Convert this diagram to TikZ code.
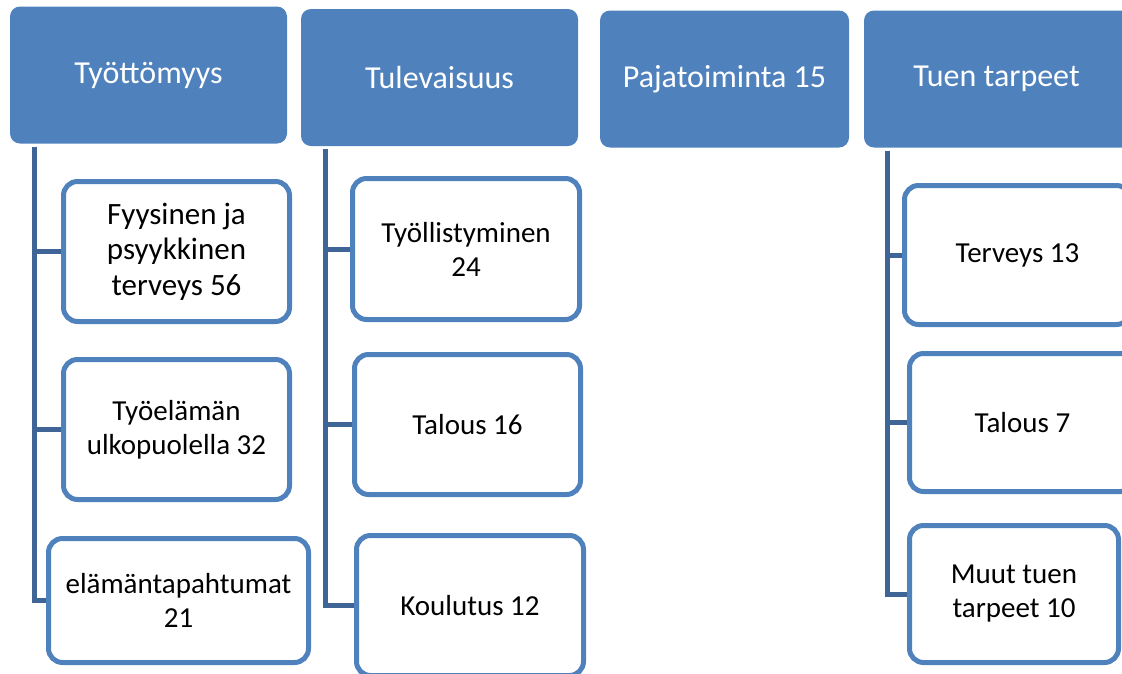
\documentclass[tikz,border=0pt]{standalone}
\usepackage{fontspec}
\setmainfont{Carlito}
\usetikzlibrary{positioning}
\definecolor{boxblue}{HTML}{4F81BD}
\definecolor{linkblue}{HTML}{3F6597}

\begin{document}
\begin{tikzpicture}[x=1pt, y=-1pt, heading/.style={rectangle, fill=boxblue, text=white, rounded corners=10pt, align=center, minimum height=137pt, font=\fontsize{32}{38}\selectfont}, item/.style={rectangle, draw=boxblue, line width=5pt, fill=white, rounded corners=14pt, align=center, inner sep=2pt, font=\fontsize{29}{34}\selectfont}, links/.style={draw=linkblue, line width=5pt}]

		\useasboundingbox (0,0) rectangle (1122,673);
		\clip (0,0) rectangle (1122,673);
		
		\node[heading, minimum width=277pt] at (148.5,75) (tyottomyys) {Työttömyys};
		\node[heading, minimum width=277pt] at (439.5,77.5) (tulevaisuus) {Tulevaisuus};
		\node[heading, minimum width=249pt] at (724.5,79) (pajatoiminta) {Pajatoiminta 15};
		\node[heading, minimum width=277pt] at (1002.5,79) (tuentarpeet) {\hspace{-12pt}Tuen tarpeet};
		
		
		\node[item, minimum width=226pt, minimum height=140pt, font=\fontsize{31}{35.5}\selectfont] at (176.5,251.5) (terveys) {Fyysinen ja\\psyykkinen\\terveys 56};
		\node[item, minimum width=226pt, minimum height=140pt] at (176.5,429.5) (tyoelama) {Työelämän\\ulkopuolella 32};
		\node[item, minimum width=260pt, minimum height=124pt] at (178.5,600.5) (elamantapahtumat) {elämäntapahtumat\\21};
		
		\node[item, minimum width=227pt, minimum height=141pt] at (466,249) (tyollistyminen) {Työllistyminen\\24};
		\node[item, minimum width=226pt, minimum height=140pt] at (467.5,424.5) (talous1) {Talous 16};
		\node[item, minimum width=227pt, minimum height=140pt] at (470,605.5) (koulutus) {Koulutus 12};
		
		\node[item, minimum width=226pt, minimum height=139pt] at (1017.5,255) (terveys2) {Terveys 13};
		\node[item, minimum width=226pt, minimum height=138pt] at (1022.5,422.5) (talous2) {Talous 7};
		\node[item, minimum width=209pt, minimum height=137pt] at (1014,594) (muut) {Muut tuen\\tarpeet 10};
		
		
		\coordinate (tyottomyysroot) at ([xshift=25pt, yshift=-3pt]tyottomyys.south west);
		\coordinate (tulevaisuusroot) at ([xshift=25pt, yshift=-3pt]tulevaisuus.south west);
		\coordinate (tuentarpeetroot) at ([xshift=24pt, yshift=-3pt]tuentarpeet.south west);
		
		\draw[links] (tyottomyysroot) |- (terveys.west);
		\draw[links] (tyottomyysroot) |- (tyoelama.west);
		\draw[links] (tyottomyysroot) |- (elamantapahtumat.west);
		
		\draw[links] (tulevaisuusroot) |- (tyollistyminen.west);
		\draw[links] (tulevaisuusroot) |- (talous1.west);
		\draw[links] (tulevaisuusroot) |- (koulutus.west);
		
		\draw[links] (tuentarpeetroot) |- (terveys2.west);
		\draw[links] (tuentarpeetroot) |- (talous2.west);
		\draw[links] (tuentarpeetroot) |- (muut.west);
	\end{tikzpicture}
\end{document}
